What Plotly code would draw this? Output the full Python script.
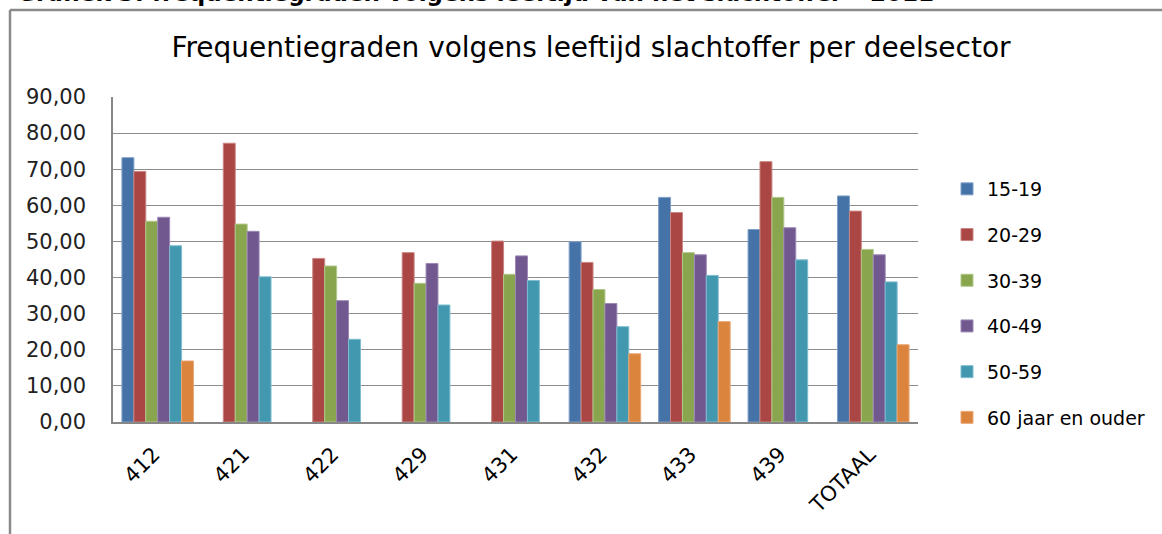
import plotly.graph_objects as go

categories = ["412", "421", "422", "429", "431", "432", "433", "439", "TOTAAL"]
series_names = ["15-19", "20-29", "30-39", "40-49", "50-59", "60 jaar en ouder"]
v_15_19 = [73.2, None, None, None, None, 49.9, 62.2, 53.3, 62.6]
v_20_29 = [69.4, 77.2, 45.3, 46.9, 50.1, 44.2, 58.0, 72.1, 58.4]
v_30_39 = [55.6, 54.8, 43.2, 38.4, 40.9, 36.7, 46.9, 62.2, 47.8]
v_40_49 = [56.7, 52.8, 33.6, 43.9, 46.0, 32.8, 46.3, 53.8, 46.3]
v_50_59 = [48.8, 40.2, 22.9, 32.4, 39.2, 26.4, 40.6, 44.9, 38.8]
v_60 = [16.9, None, None, None, None, 18.9, 27.8, None, 21.4]
series_values = [v_15_19, v_20_29, v_30_39, v_40_49, v_50_59, v_60]
colors = ["#4572A7", "#AA4643", "#89A54E", "#71588F", "#4198AF", "#DB843D"]
outlines = ["#7f9fc8", "#c98583", "#b0c88a", "#9c88b5", "#7fbcd0", "#eaa876"]
y_ticks = [0, 10, 20, 30, 40, 50, 60, 70, 80, 90]

FONT = "DejaVu Sans"
W, H = 1162, 534
L, R, T, B = 113, 918, 97, 422

fig = go.Figure()
for name, vals, c, oc in zip(series_names, series_values, colors, outlines):
    fig.add_trace(go.Bar(
        x=categories, y=vals, name=name, legendgroup=name,
        marker=dict(color=c, line=dict(color=oc, width=1)),
    ))

def px(sx):
    return (sx - L) / (R - L)

def py(sy):
    return (B - sy) / (B - T)

fig.update_layout(
    width=W, height=H,
    margin=dict(l=L, r=W - R, t=T, b=H - B, autoexpand=False),
    paper_bgcolor="white", plot_bgcolor="white",
    barmode="group", bargap=0.2, bargroupgap=0,
    separators=",.",
    font=dict(family=FONT, color="black", size=19),
    title=dict(text="Frequentiegraden volgens leeftijd slachtoffer per deelsector",
               x=591 / W, xanchor="center", y=1 - 47 / H, yanchor="middle",
               font=dict(family=FONT, size=28, color="black")),
    showlegend=True,
    legend=dict(x=px(947), xanchor="left", y=py(170), yanchor="top",
                font=dict(family=FONT, size=19), tracegroupgap=18,
                traceorder="grouped", itemwidth=30),
    xaxis=dict(showline=True, linecolor="#878787", linewidth=1.5,
               tickangle=-45, tickfont=dict(family=FONT, size=21),
               ticks="", showgrid=False, ticklabelshift=-4, ticklabelstandoff=10),
    yaxis=dict(range=[0, 90], tickvals=y_ticks, tickformat=".2f",
               showline=True, linecolor="#878787", linewidth=1.5,
               showgrid=True, gridcolor="#8c8c8c", gridwidth=1.3,
               ticks="", ticklabelstandoff=21,
               tickfont=dict(family=FONT, size=21, color="#222222"), zeroline=False),
    shapes=[
        dict(type="line", xref="paper", yref="paper", x0=px(10), x1=px(10),
             y0=py(10), y1=py(540), line=dict(color="#8a8a8a", width=2.5)),
        dict(type="line", xref="paper", yref="paper", x0=px(10), x1=px(1170),
             y0=py(10), y1=py(10), line=dict(color="#8a8a8a", width=2.5)),
    ],
    annotations=[
        dict(text="<b>Grafiek 3: frequentiegraden volgens leeftijd van het slachtoffer – 2011</b>",
             xref="paper", yref="paper", x=px(15), y=py(8), xanchor="left",
             yanchor="bottom", showarrow=False,
             font=dict(family=FONT, size=23, color="black")),
    ],
)

fig.write_html(
    "out.html",
    config={"displayModeBar": False},
    post_script="document.body.style.margin='0px';document.body.style.overflow='hidden';",
)
